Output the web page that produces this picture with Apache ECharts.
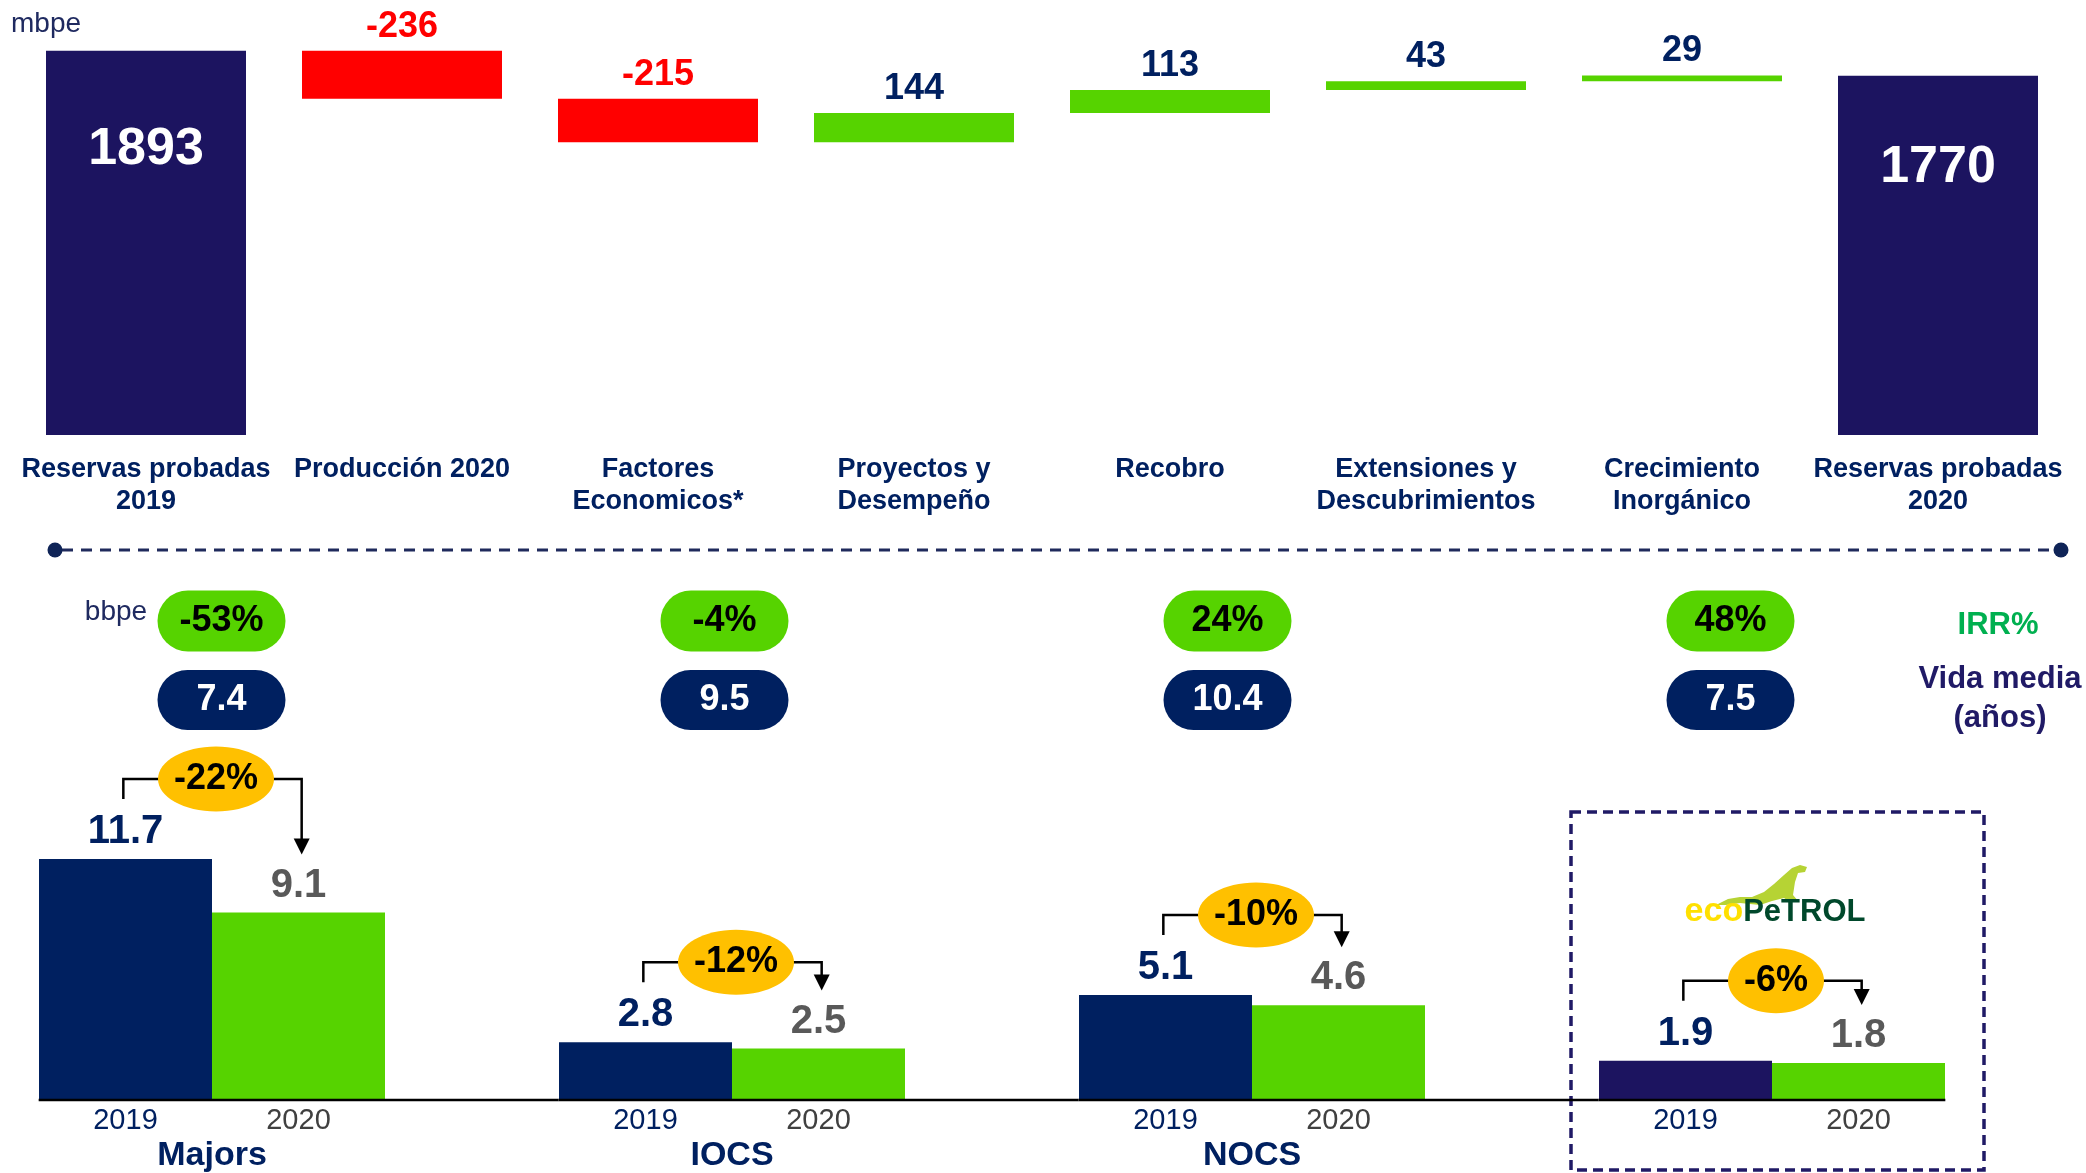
<!DOCTYPE html>
<html><head><meta charset="utf-8">
<script src="https://cdn.jsdelivr.net/npm/echarts@6/dist/echarts.min.js"></script>
<style>html,body{margin:0;padding:0;background:#fff}#c{width:2086px;height:1173px}</style>
</head><body><div id="c"></div>
<script>
// ---------- DATA ----------
const wfCategories = ['Reservas probadas\n2019','Producción 2020','Factores\nEconomicos*','Proyectos y\nDesempeño','Recobro','Extensiones y\nDescubrimientos','Crecimiento\nInorgánico','Reservas probadas\n2020'];
const wfValues = [1893, -236, -215, 144, 113, 43, 29, 1770];
const wfIsTotal = [true, false, false, false, false, false, false, true];

const peerGroups = ['Majors', 'IOCS', 'NOCS', 'Ecopetrol'];
const peerGroupLabels = ['Majors', 'IOCS', 'NOCS', ''];
const yearLabels = ['2019', '2020'];
const reserves2019 = [11.7, 2.8, 5.1, 1.9];
const reserves2020 = [9.1, 2.5, 4.6, 1.8];
const changeLabels = ['-22%', '-12%', '-10%', '-6%'];
const irrLabels = ['-53%', '-4%', '24%', '48%'];
const lifeYears = ['7.4', '9.5', '10.4', '7.5'];

// ---------- STYLE ----------
const FONT = 'Liberation Sans, Arial, sans-serif';
const NAVY = '#002060';
const NAVY_BAR = '#1C1460';
const PURPLE_TXT = '#201A66';
const GREEN = '#56D300';
const RED = '#FF0000';
const GREY = '#595959';
const YELLOW = '#FFC000';

// waterfall construction
const wfBase = [], wfHeight = [];
let running = 0;
wfValues.forEach((v, i) => {
  if (wfIsTotal[i]) { wfBase.push(0); wfHeight.push(v); running = v; }
  else if (v < 0) { running += v; wfBase.push(running); wfHeight.push(-v); }
  else { wfBase.push(running); wfHeight.push(v); running += v; }
});

const mctx = document.createElement('canvas').getContext('2d');
function textW(t, font) { mctx.font = font; return mctx.measureText(t).width; }

const chart = echarts.init(document.getElementById('c'), null, {renderer: 'canvas'});

const option = {
  backgroundColor: '#fff',
  animation: false,
  textStyle: {fontFamily: FONT},
  grid: [
    {left: 18, width: 2048, top: 29, height: 406, outerBoundsMode: 'none', containLabel: false},
    {left: -48, width: 2080, top: 688, height: 412, outerBoundsMode: 'none', containLabel: false},
    {left: -30, width: 2012, top: 581.5, height: 158, outerBoundsMode: 'none', containLabel: false}
  ],
  xAxis: [
    {type: 'category', gridIndex: 0, data: wfCategories,
     axisLine: {show: false}, axisTick: {show: false},
     axisLabel: {interval: 0, margin: 19, color: NAVY, fontSize: 27, fontWeight: 'bold', lineHeight: 32, fontFamily: FONT}},
    {type: 'category', gridIndex: 1, data: peerGroups,
     axisLine: {show: false}, axisTick: {show: false},
     axisLabel: {interval: 0, margin: 5, fontFamily: FONT,
       formatter: (v, i) => `{y19|${yearLabels[0]}}{y20|${yearLabels[1]}}\n{g|${peerGroupLabels[i] || ' '}}`,
       rich: {
         y19: {width: 173, align: 'center', color: NAVY, fontSize: 29, lineHeight: 32, fontFamily: FONT},
         y20: {width: 173, align: 'center', color: '#404040', fontSize: 29, lineHeight: 32, fontFamily: FONT},
         g: {align: 'center', color: NAVY, fontSize: 34, fontWeight: 'bold', lineHeight: 38, fontFamily: FONT}
       }}},
    {type: 'category', gridIndex: 2, data: peerGroups, show: false}
  ],
  yAxis: [
    {type: 'value', gridIndex: 0, min: 0, max: 2000, show: false},
    {type: 'value', gridIndex: 1, min: 0, max: 20, show: false},
    {type: 'category', gridIndex: 2, data: ['vida', 'irr'], show: false}
  ],
  series: [
    {type: 'bar', name: 'base', stack: 'wf', xAxisIndex: 0, yAxisIndex: 0, barWidth: 200,
     silent: true, itemStyle: {color: 'rgba(0,0,0,0)'}, data: wfBase},
    {type: 'bar', name: 'delta', stack: 'wf', xAxisIndex: 0, yAxisIndex: 0, barWidth: 200,
     data: wfHeight.map((h, i) => ({
       value: h,
       itemStyle: {color: wfIsTotal[i] ? NAVY_BAR : (wfValues[i] < 0 ? RED : GREEN)},
       label: wfIsTotal[i]
         ? {position: 'insideTop', distance: i === 0 ? 73 : 66, color: '#fff', fontSize: 52}
         : {position: 'top', distance: 6, color: wfValues[i] < 0 ? RED : NAVY, fontSize: 36}
     })),
     label: {show: true, fontWeight: 'bold', fontFamily: FONT, formatter: p => String(wfValues[p.dataIndex])}},
    {type: 'bar', name: yearLabels[0], xAxisIndex: 1, yAxisIndex: 1, barWidth: 173, barGap: '0%',
     data: reserves2019.map((v, i) => ({value: v, itemStyle: {color: i === 3 ? NAVY_BAR : NAVY}})),
     label: {show: true, position: 'top', distance: 7, color: NAVY, fontSize: 40, fontWeight: 'bold', fontFamily: FONT}},
    {type: 'bar', name: yearLabels[1], xAxisIndex: 1, yAxisIndex: 1, barWidth: 173, barGap: '0%',
     itemStyle: {color: GREEN}, data: reserves2020,
     label: {show: true, position: 'top', distance: 7, color: GREY, fontSize: 40, fontWeight: 'bold', fontFamily: FONT}},
    {type: 'custom', xAxisIndex: 1, yAxisIndex: 1, z: 5, silent: true,
     data: peerGroups.map((g, i) => [i, reserves2019[i], reserves2020[i]]),
     renderItem: (params, api) => {
       const i = api.value(0);
       const base = api.coord([i, 0]);
       const band = api.size([1, 0])[0];
       const barW = band / 3;
       const cx = base[0];
       const x19 = cx - barW / 2, x20 = cx + barW / 2;
       const t19 = api.coord([i, api.value(1)])[1];
       const t20 = api.coord([i, api.value(2)])[1];
       const yH = t19 - 80;
       const xl = x19 - 2, xr = x20 + 3;
       const tip = t20 - 58;
       const txt = changeLabels[params.dataIndex];
       const font = 'bold 36px ' + FONT;
       const rx = textW(txt, font) / 2 + 16, ry = 32.5;
       const last = params.dataIndex === peerGroups.length - 1;
       const lineEnd = last ? cx + barW : cx + band - barW;
       return {type: 'group', children: [
         {type: 'line', shape: {x1: cx - barW, y1: base[1], x2: lineEnd, y2: base[1]}, style: {stroke: '#000', lineWidth: 2.5}},
         {type: 'polyline', shape: {points: [[xl, t19 - 60], [xl, yH], [xr, yH], [xr, tip - 14]]}, style: {stroke: '#000', lineWidth: 2.5, fill: null}},
         {type: 'polygon', shape: {points: [[xr - 8, tip - 16], [xr + 8, tip - 16], [xr, tip]]}, style: {fill: '#000'}},
         {type: 'ellipse', shape: {cx: cx + 4, cy: yH, rx: rx, ry: ry}, style: {fill: YELLOW}},
         {type: 'text', x: cx + 4, y: yH, style: {text: txt, font: font, fill: '#000', align: 'center', verticalAlign: 'middle'}}
       ]};
     }},
    {type: 'scatter', xAxisIndex: 2, yAxisIndex: 2, symbolSize: 1, silent: true,
     itemStyle: {opacity: 1, color: 'rgba(0,0,0,0)'},
     data: irrLabels.map((t, i) => [i, 'irr', t]),
     label: {show: true, position: 'inside', formatter: p => p.value[2], color: '#000', fontSize: 36, fontWeight: 'bold', fontFamily: FONT,
       backgroundColor: GREEN, borderRadius: 31, width: 128, height: 61, lineHeight: 61, align: 'center', verticalAlign: 'middle'}},
    {type: 'scatter', xAxisIndex: 2, yAxisIndex: 2, symbolSize: 1, silent: true,
     itemStyle: {opacity: 1, color: 'rgba(0,0,0,0)'},
     data: lifeYears.map((t, i) => [i, 'vida', t]),
     label: {show: true, position: 'inside', formatter: p => p.value[2], color: '#fff', fontSize: 36, fontWeight: 'bold', fontFamily: FONT,
       backgroundColor: NAVY, borderRadius: 31, width: 128, height: 60, lineHeight: 60, align: 'center', verticalAlign: 'middle'}}
  ],
  graphic: [
    {type: 'text', x: 11, y: 24, style: {text: 'mbpe', fontSize: 28, fontFamily: FONT, fill: '#1F2A60', align: 'left', verticalAlign: 'middle'}},
    {type: 'text', x: 116, y: 612, style: {text: 'bbpe', fontSize: 28, fontFamily: FONT, fill: '#1F2A60', align: 'center', verticalAlign: 'middle'}},
    {type: 'line', shape: {x1: 62, y1: 550, x2: 2054, y2: 550}, style: {stroke: '#1F2A5C', lineWidth: 3, lineDash: [11, 8]}},
    {type: 'circle', shape: {cx: 55, cy: 550, r: 7.5}, style: {fill: '#0F2457'}},
    {type: 'circle', shape: {cx: 2061, cy: 550, r: 7.5}, style: {fill: '#0F2457'}},
    {type: 'text', x: 1998, y: 625, style: {text: 'IRR%', fontSize: 31, fontWeight: 'bold', fontFamily: FONT, fill: '#00B050', align: 'center', verticalAlign: 'middle'}},
    {type: 'text', x: 2000, y: 699, style: {text: 'Vida media\n(años)', fontSize: 31, fontWeight: 'bold', fontFamily: FONT, lineHeight: 39, fill: PURPLE_TXT, align: 'center', verticalAlign: 'middle'}},
    {type: 'rect', shape: {x: 1571, y: 812, width: 413, height: 358}, style: {fill: null, stroke: PURPLE_TXT, lineWidth: 3.5, lineDash: [10, 6]}},
    {type: 'polygon', shape: {points: [[1716,905],[1728,899],[1740,897],[1752,897],[1764,892],[1774,884],[1784,875],[1792,868],[1800,865],[1807,867],[1805,872],[1798,873],[1795,882],[1793,895],[1799,902],[1790,902],[1784,898],[1772,901],[1760,905],[1740,903],[1726,905]]}, style: {fill: '#B6D334'}},
    {type: 'text', x: 1775, y: 912, style: {text: '{a|eco}{b|PeTROL}', align: 'center', verticalAlign: 'middle',
      rich: {a: {fontSize: 34, fontWeight: 'bold', fontFamily: FONT, fill: '#FFE000', color: '#FFE000'},
             b: {fontSize: 31, fontWeight: 'bold', fontFamily: FONT, fill: '#00482B', color: '#00482B'}}}}
  ]
};
chart.setOption(option);
</script>
</body></html>
